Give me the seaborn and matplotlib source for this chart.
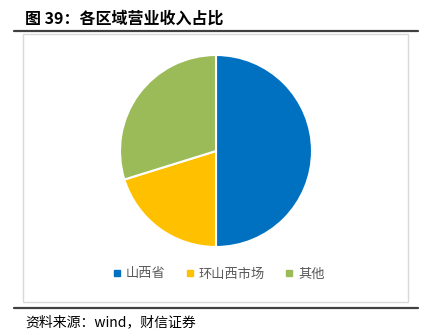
import matplotlib
matplotlib.use("Agg")
import matplotlib.pyplot as plt
from matplotlib.lines import Line2D
from matplotlib.patches import Rectangle
import seaborn as sns

categories = ["山西省", "环山西市场", "其他"]
shares = [50.0, 20.2, 29.8]
colors = ["#0070C0", "#FFC000", "#9BBB59"]
title = "图 39：各区域营业收入占比"
source = "资料来源：wind，财信证券"

sns.set_theme(style="white")
plt.rcParams["font.family"] = ["Noto Sans CJK SC", "DejaVu Sans"]

W, H = 428, 336
fig = plt.figure(figsize=(W / 100, H / 100), dpi=100)
fig.patch.set_facecolor("white")

def fx(px):
    return px / W

def fy(py):
    return 1 - py / H

# frame box
fig.add_artist(Rectangle((fx(23), fy(302)), fx(408) - fx(23), fy(34) - fy(302),
                         transform=fig.transFigure, fill=False,
                         edgecolor="#d9d9d9", linewidth=1.0))
# dark rules
for y in (31, 308):
    fig.add_artist(Line2D([fx(14), fx(418)], [fy(y), fy(y)], transform=fig.transFigure,
                          color="#404040", linewidth=1.6))

fig.text(fx(25), fy(19), title, fontsize=11.5, fontweight="bold", color="#000000",
         ha="left", va="center")
fig.text(fx(25), fy(322), source, fontsize=10, style="italic", color="#000000",
         ha="left", va="center")

cx, cy, r = 216, 151, 96
ax = fig.add_axes([fx(cx - r), fy(cy + r), (2 * r) / W, (2 * r) / H])
ax.pie(shares, colors=colors, startangle=90, counterclock=False, radius=1,
       wedgeprops=dict(edgecolor="white", linewidth=1.5))
ax.set_xlim(-1.0, 1.0)
ax.set_ylim(-1.0, 1.0)
ax.set_aspect("equal")
ax.axis("off")

handles = [Line2D([], [], marker="s", linestyle="", markersize=5, color=c) for c in colors]
fig.legend(handles, categories, loc="center", bbox_to_anchor=(fx(218), fy(274)),
           ncol=3, frameon=False, fontsize=9.5, handlelength=0.8, handletextpad=0.3,
           columnspacing=1.4, labelcolor="#595959")

fig.savefig("out.png", dpi=100, facecolor="white")
